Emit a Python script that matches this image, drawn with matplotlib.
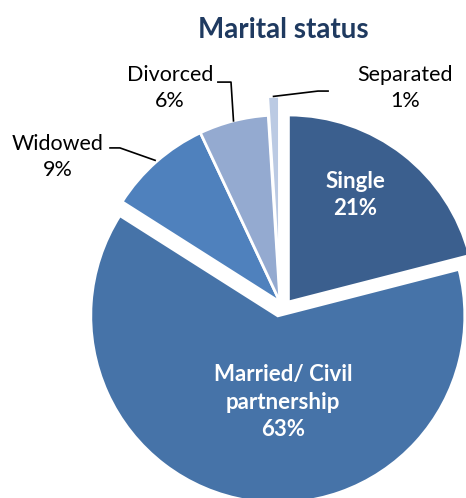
import matplotlib.pyplot as plt
import numpy as np

# data
labels = ["Single", "Married/ Civil\npartnership", "Widowed", "Divorced", "Separated"]
shares = [21, 63, 9, 6, 1]
colors = ["#3B5F8E", "#4673A8", "#4F81BD", "#94AAD0", "#BBCAE3"]
explode = [0.0, 0.075, 0.0, 0.0, 0.1]

plt.rcParams['font.family'] = ['Lato', 'DejaVu Sans']

fig = plt.figure(figsize=(4.66, 4.98), dpi=100)
ax = fig.add_axes([0, 0, 1, 1])

wedges, _ = ax.pie(shares, colors=colors, explode=explode, startangle=90,
                   counterclock=False, radius=1,
                   wedgeprops=dict(edgecolor="white", linewidth=2))
# Single is pulled out sideways
wedges[0].set_center((0.045, 0.0))

# same scale on both axes: 187 px per unit, centre at (280, 302) px
S = 187.0
ax.set_xlim(-280 / S, (466 - 280) / S)
ax.set_ylim(-(498 - 302) / S, 302 / S)
ax.set_aspect("auto")
ax.axis("off")

fig.text(0.607, 0.94, "Marital status", ha="center", va="center",
         fontsize=20, fontweight="bold", color="#1F3A60")

# labels inside the two big slices
ax.text(0.401, 0.572, "%s\n%d%%" % (labels[0], shares[0]), ha="center", va="center",
        color="white", fontsize=16, fontweight="bold", linespacing=1.4)
ax.text(0.016, -0.535, "%s\n%d%%" % (labels[1], shares[1]), ha="center", va="center",
        color="white", fontsize=16, fontweight="bold", linespacing=1.4)

# outside labels with leader lines
def anchor(w, r):
    a = np.deg2rad((w.theta1 + w.theta2) / 2)
    cx, cy = w.center
    return cx + r * np.cos(a), cy + r * np.sin(a)

outside = {
    2: ((-1.187, 0.775), [(-0.909, 0.824), (-0.856, 0.824)], 1.01),
    3: ((-0.588, 1.144), [(-0.332, 1.176), (-0.262, 1.176)], 1.0),
    4: ((0.668, 1.144), [(0.257, 1.128), (0.203, 1.128)], 1.0),
}
for i, (pos, elbow, r) in outside.items():
    ax.text(pos[0], pos[1], "%s\n%d%%" % (labels[i], shares[i]), ha="center", va="center",
            color="black", fontsize=15.5, linespacing=1.4)
    ax_, ay_ = anchor(wedges[i], r)
    xs = [p[0] for p in elbow] + [ax_]
    ys = [p[1] for p in elbow] + [ay_]
    ax.plot(xs, ys, color="black", linewidth=1.2, clip_on=False)

fig.savefig("out.png", dpi=100)
